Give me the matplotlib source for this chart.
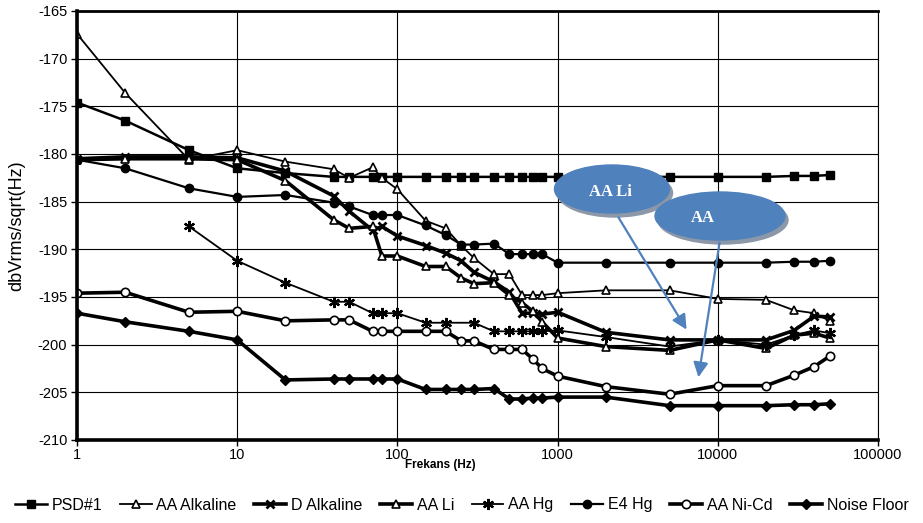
import matplotlib
matplotlib.use("Agg")
import matplotlib.pyplot as plt
from matplotlib.patches import Ellipse
from matplotlib.ticker import FixedLocator, FixedFormatter, NullLocator

plt.rcParams["axes.unicode_minus"] = False

# frequencies (Hz)
f_all = [1, 2, 5, 10, 20, 40, 50, 70, 80, 100, 150, 200, 250, 300, 400, 500,
         600, 700, 800, 1000, 2000, 5000, 10000, 20000, 30000, 40000, 50000]
f_hg = [5, 10, 20, 40, 50, 70, 80, 100, 150, 200, 300, 400, 500, 600, 700,
        800, 1000, 2000, 5000, 10000, 20000, 30000, 40000, 50000]

psd1 = [-174.6, -176.5, -179.6, -181.5, -182.0, -182.4, -182.4, -182.4, -182.4,
        -182.4, -182.4, -182.4, -182.4, -182.4, -182.4, -182.4, -182.4, -182.4,
        -182.4, -182.4, -182.4, -182.4, -182.4, -182.4, -182.3, -182.3, -182.2]
aa_alk = [-167.4, -173.6, -180.6, -179.6, -180.8, -181.6, -182.5, -181.4, -182.5,
          -183.7, -187.0, -187.8, -189.6, -190.9, -192.6, -192.6, -194.8, -194.8,
          -194.8, -194.6, -194.3, -194.3, -195.2, -195.3, -196.4, -196.7, -197.5]
d_alk = [-180.5, -180.3, -180.3, -180.4, -181.8, -184.4, -186.0, -188.0, -187.6,
         -188.6, -189.6, -190.4, -191.2, -192.4, -193.4, -194.5, -196.7, -196.7,
         -196.8, -196.6, -198.7, -199.5, -199.5, -199.5, -198.5, -197.0, -197.1]
aa_li = [-180.6, -180.5, -180.5, -180.6, -182.8, -186.9, -187.8, -187.6, -190.7,
         -190.7, -191.8, -191.8, -193.0, -193.6, -193.5, -194.8, -195.6, -196.5,
         -197.6, -199.3, -200.2, -200.6, -199.5, -200.4, -199.0, -198.8, -199.3]
aa_hg = [-187.6, -191.2, -193.5, -195.5, -195.5, -196.7, -196.7, -196.7, -197.7,
         -197.7, -197.7, -198.6, -198.6, -198.6, -198.6, -198.6, -198.5, -199.2,
         -200.2, -199.5, -200.0, -199.0, -198.5, -198.8]
e4_hg = [-180.6, -181.5, -183.6, -184.5, -184.3, -185.1, -185.5, -186.4, -186.4,
         -186.4, -187.5, -188.5, -189.5, -189.5, -189.4, -190.5, -190.5, -190.5,
         -190.5, -191.4, -191.4, -191.4, -191.4, -191.4, -191.3, -191.3, -191.2]
aa_nicd = [-194.6, -194.5, -196.6, -196.5, -197.5, -197.4, -197.4, -198.6, -198.6,
           -198.6, -198.6, -198.6, -199.6, -199.6, -200.5, -200.5, -200.5, -201.5,
           -202.5, -203.3, -204.4, -205.2, -204.3, -204.3, -203.2, -202.3, -201.2]
noise = [-196.7, -197.6, -198.6, -199.5, -203.7, -203.6, -203.6, -203.6, -203.6,
         -203.6, -204.7, -204.7, -204.7, -204.7, -204.6, -205.7, -205.7, -205.6,
         -205.6, -205.5, -205.5, -206.4, -206.4, -206.4, -206.3, -206.3, -206.2]

W, H = 923, 523
fig = plt.figure(figsize=(W / 100, H / 100), dpi=100)
ax = fig.add_axes([77 / W, 1 - 440 / H, (878 - 77) / W, (440 - 11) / H])

thin = 1.3
thick = 2.6
ax.plot(f_all, psd1, color="black", lw=1.8, marker="s", ms=6, label="PSD#1")
ax.plot(f_all, aa_alk, color="black", lw=thin, marker="^", ms=6, mfc="white",
        mec="black", mew=1.2, label="AA Alkaline")
ax.plot(f_all, d_alk, color="black", lw=thick, marker="x", ms=6, mew=2,
        label="D Alkaline")
ax.plot(f_all, aa_li, color="black", lw=thick, marker="^", ms=6, mfc="white",
        mec="black", mew=1.2, label="AA Li")
ax.plot(f_hg, aa_hg, color="black", lw=thin, marker=(6, 2, 0), ms=8, mew=1.6,
        label="AA Hg")
ax.plot(f_all, e4_hg, color="black", lw=1.6, marker="o", ms=6, label="E4 Hg")
ax.plot(f_all, aa_nicd, color="black", lw=thick, marker="o", ms=6, mfc="white",
        mec="black", mew=1.2, label="AA Ni-Cd")
ax.plot(f_all, noise, color="black", lw=thick, marker="D", ms=5,
        label="Noise Floor")

ax.set_xscale("log")
ax.set_xlim(1, 100000)
ax.set_ylim(-210, -165)
xt = [1, 10, 100, 1000, 10000, 100000]
ax.xaxis.set_major_locator(FixedLocator(xt))
ax.xaxis.set_major_formatter(FixedFormatter([str(v) for v in xt]))
ax.xaxis.set_minor_locator(NullLocator())
ax.set_yticks(range(-210, -164, 5))
ax.grid(True, color="black", lw=0.8)
ax.set_axisbelow(True)
for s in ["left", "bottom"]:
    ax.spines[s].set_linewidth(2.6)
ax.spines["top"].set_linewidth(2.0)
ax.spines["right"].set_linewidth(0.8)
ax.tick_params(direction="out", length=4, width=1, labelsize=10.5)
ax.tick_params(axis="x", pad=1.5)
ax.tick_params(axis="y", pad=3)
for t in ax.get_xticklabels() + ax.get_yticklabels():
    t.set_fontfamily("Liberation Sans")
ax.set_ylabel("dbVrms/sqrt(Hz)", fontsize=13, family="Liberation Sans", labelpad=9)
fig.text(440 / W, 1 - 465 / H, "Frekans (Hz)", ha="center", va="center",
         fontsize=8.5, fontweight="bold", family="Liberation Sans")

leg = fig.legend(loc="center", bbox_to_anchor=(0.5, 1 - 505 / H), ncol=8,
                 frameon=False, handlelength=2.0, handletextpad=0.3,
                 columnspacing=1.1, borderaxespad=0,
                 prop={"family": ["Liberation Sans Narrow", "Liberation Sans"],
                       "size": 11.5})


# callouts (positions in figure pixels, top-left origin)
def fx(px):
    return px / W


def fy(py):
    return 1 - py / H


blue = "#4f81bd"
for cx, cy, w, h, txt, tx, ty in [(612, 189, 115, 48, "AA Li", 610, 192),
                                  (720, 216, 130, 48, "AA", 703, 218)]:
    fig.patches.append(Ellipse((fx(cx + 3), fy(cy + 4)), w / W, h / H,
                               transform=fig.transFigure, color="#8c97a8",
                               zorder=5))
    fig.patches.append(Ellipse((fx(cx), fy(cy)), w / W, h / H,
                               transform=fig.transFigure, color=blue, zorder=6))
    fig.text(fx(tx), fy(ty), txt, color="white", fontsize=12, fontweight="bold",
             family="Liberation Serif", ha="center", va="center", zorder=7)

for (x0, y0), (x1, y1) in [((617, 215), (688, 332)), ((720, 240), (698, 380))]:
    fig.add_artist(plt.Annotation("", xy=(x1, H - y1), xytext=(x0, H - y0),
                                  xycoords="figure pixels",
                                  textcoords="figure pixels",
                                  arrowprops=dict(arrowstyle="-|>", color=blue,
                                                  lw=1.6, mutation_scale=22),
                                  zorder=8))

fig.savefig("out.png", dpi=100)
